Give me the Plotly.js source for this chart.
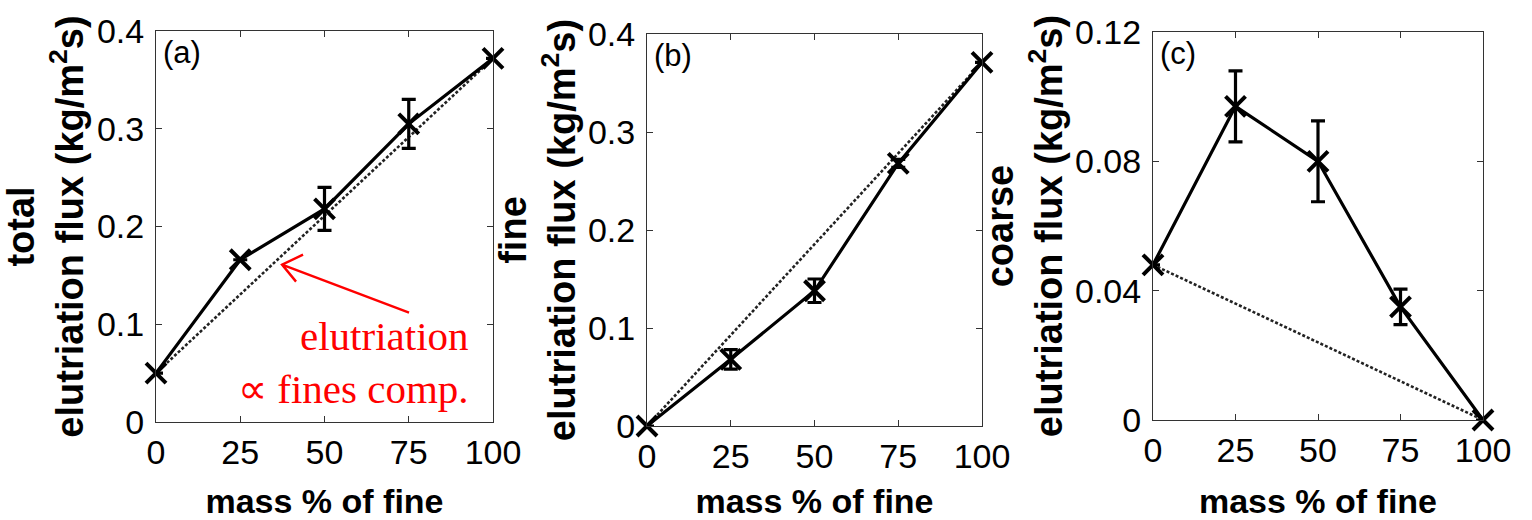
<!DOCTYPE html>
<html>
<head>
<meta charset="utf-8">
<script src="https://cdn.plot.ly/plotly-3.0.1.min.js"></script>
<style>html,body{margin:0;padding:0;background:#fff;}#chart{width:1532px;height:520px;}</style>
</head>
<body>
<div id="chart"></div>
<script>
// ---- data ----
const massPct = [0, 25, 50, 75, 100];
const idealX = [0, 100];

const totalFlux = [0.050, 0.166, 0.218, 0.305, 0.372];
const totalErr  = [null, null, 0.022, 0.025, null];
const totalIdeal = [0.050, 0.372];

const fineFlux = [0.000, 0.068, 0.138, 0.268, 0.371];
const fineErr  = [null, 0.010, 0.012, 0.004, null];
const fineIdeal = [0.000, 0.371];

const coarseFlux = [0.048, 0.097, 0.080, 0.035, 0.000];
const coarseErr  = [null, 0.011, 0.0125, 0.0055, null];
const coarseIdeal = [0.048, 0.000];

const xTicks = [0, 25, 50, 75, 100];
const yTicksAB = [0, 0.1, 0.2, 0.3, 0.4];
const yTicksC = [0, 0.04, 0.08, 0.12];
const yTickTextC = ['0', '0.04', '0.08', '0.12'];

const panelLabels = ['(a)', '(b)', '(c)'];
const yTitles = ['total', 'fine', 'coarse'];
const yTitleMain = 'elutriation flux (kg/m<sup>2</sup>s)';
const xTitle = 'mass % of fine';
const noteText = 'elutriation<br>\u221d fines comp.';

// ---- traces ----
function ideal(xs, ys, n) {
  return {x: xs, y: ys, xaxis: 'x' + (n > 1 ? n : ''), yaxis: 'y' + (n > 1 ? n : ''),
    mode: 'lines', line: {color: '#222', width: 2.6, dash: '3px,2px'}, hoverinfo: 'skip'};
}
function meas(xs, ys, err, n) {
  return {x: xs, y: ys, xaxis: 'x' + (n > 1 ? n : ''), yaxis: 'y' + (n > 1 ? n : ''),
    mode: 'lines+markers', cliponaxis: false,
    line: {color: '#000', width: 3.2},
    marker: {symbol: 'x-thin', size: 20, color: '#000', line: {color: '#000', width: 4}},
    error_y: {type: 'data', array: err, visible: true, color: '#000', thickness: 3.2, width: 7}};
}
const data = [
  ideal(idealX, totalIdeal, 1), meas(massPct, totalFlux, totalErr, 1),
  ideal(idealX, fineIdeal, 2), meas(massPct, fineFlux, fineErr, 2),
  ideal(idealX, coarseIdeal, 3), meas(massPct, coarseFlux, coarseErr, 3)
];

// ---- layout ----
const tickFont = {family: 'Liberation Sans, Arial, sans-serif', size: 34, color: '#000'};
function xa(dom) {
  return {domain: dom, range: [0, 100], tickvals: xTicks, ticks: 'inside', ticklen: 6, tickwidth: 1,
    tickcolor: '#333', showline: true, linecolor: '#333', linewidth: 1, mirror: 'ticks',
    showgrid: false, zeroline: false, tickfont: tickFont, ticklabelstandoff: 0, automargin: false,
    title: {text: xTitle, standoff: 22, font: {family: 'Liberation Sans, Arial, sans-serif', size: 34, weight: 'bold', color: '#000'}}};
}
function ya(dom, range, vals, txt, t, so) {
  const o = {domain: dom, range: range, tickvals: vals, ticks: 'inside', ticklen: 6, tickwidth: 1,
    tickcolor: '#333', showline: true, linecolor: '#333', linewidth: 1, mirror: 'ticks',
    showgrid: false, zeroline: false, tickfont: tickFont, ticklabelstandoff: 4, automargin: false,
    title: {text: t + '<br>' + yTitleMain, standoff: so, font: {family: 'Liberation Sans, Arial, sans-serif', size: 38, weight: 'bold', color: '#000'}}};
  if (txt) o.ticktext = txt;
  return o;
}

const W = 1532, H = 520;
const layout = {
  width: W, height: H, margin: {l: 0, r: 0, t: 0, b: 0, pad: 0},
  paper_bgcolor: '#fff', plot_bgcolor: '#fff', showlegend: false,
  font: {family: 'Liberation Sans, Arial, sans-serif', color: '#000'},
  xaxis:  Object.assign(xa([156 / W, 493 / W]), {anchor: 'y'}),
  yaxis:  Object.assign(ya([1 - 422 / H, 1 - 31 / H], [0, 0.4], yTicksAB, null, yTitles[0], 10), {anchor: 'x'}),
  xaxis2: Object.assign(xa([647 / W, 982 / W]), {anchor: 'y2'}),
  yaxis2: Object.assign(ya([1 - 426 / H, 1 - 34 / H], [0, 0.4], yTicksAB, null, yTitles[1], 0), {anchor: 'x2'}),
  xaxis3: Object.assign(xa([1153 / W, 1483 / W]), {anchor: 'y3'}),
  yaxis3: Object.assign(ya([1 - 420 / H, 1 - 32 / H], [0, 0.12], yTicksC, yTickTextC, yTitles[2], 0), {anchor: 'x3'}),
  annotations: [
    ...panelLabels.map((t, i) => ({
      text: t, showarrow: false, xref: 'x' + (i ? i + 1 : '') + ' domain', yref: 'y' + (i ? i + 1 : '') + ' domain',
      x: 0.015, y: 0.995, xanchor: 'left', yanchor: 'top',
      font: {family: 'Liberation Sans, Arial, sans-serif', size: 31, color: '#000'}})),
    {text: noteText, showarrow: false, xref: 'x', yref: 'y', x: 93.5, y: 0.061,
     xanchor: 'right', yanchor: 'middle', align: 'right',
     font: {family: 'Liberation Serif, Times New Roman, serif', size: 41, color: '#ff0000'}}
  ],
  shapes: [
    // red pointer arrow (open head), drawn in pixel offsets from its tip
    {type: 'path', xref: 'x', yref: 'y', xsizemode: 'pixel', ysizemode: 'pixel',
     xanchor: 37.4, yanchor: 0.161,
     path: 'M 0,0 L 127,-48 M 21,10 L 0,0 L 14,-17',
     line: {color: '#ff0000', width: 2.4}}
  ]
};

Plotly.newPlot('chart', data, layout, {staticPlot: true, displayModeBar: false});
</script>
</body>
</html>
